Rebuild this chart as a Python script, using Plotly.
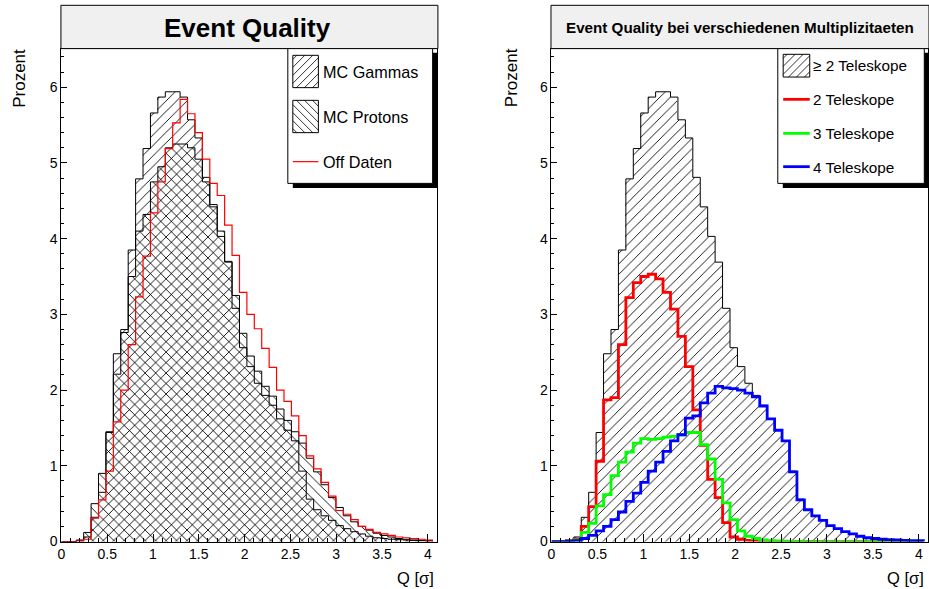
import plotly.graph_objects as go

W, H = 929, 589
BIN_W = 0.081
N_BINS = 50
X_MAX = 4.1
Y_MAX = 6.51

x_ticks = [0, 0.5, 1, 1.5, 2, 2.5, 3, 3.5, 4]
x_tick_labels = ["0", "0.5", "1", "1.5", "2", "2.5", "3", "3.5", "4"]
y_ticks = [0, 1, 2, 3, 4, 5, 6]

mc_gammas = [0.0, 0.0, 0.01, 0.06, 0.32, 0.65, 1.44, 2.48, 2.80, 3.85,
             4.79, 5.19, 5.66, 5.87, 5.94, 5.94, 5.87, 5.57, 5.33, 4.81,
             4.42, 4.03, 3.69, 3.08, 2.56, 2.31, 2.09, 1.93, 1.80, 1.62,
             1.47, 1.33, 0.93, 0.56, 0.42, 0.34, 0.28, 0.21, 0.17, 0.13,
             0.10, 0.07, 0.05, 0.04, 0.03, 0.025, 0.02, 0.015, 0.01, 0.01]
mc_protons = [0.0, 0.0, 0.02, 0.12, 0.50, 0.90, 1.45, 2.21, 2.76, 3.50,
              4.10, 4.32, 4.75, 4.95, 5.20, 5.25, 5.25, 5.20, 5.05, 4.75,
              4.45, 4.10, 3.70, 3.25, 2.75, 2.45, 2.25, 2.05, 1.92, 1.75,
              1.60, 1.45, 1.30, 1.10, 0.92, 0.75, 0.58, 0.45, 0.34, 0.26,
              0.20, 0.15, 0.11, 0.08, 0.06, 0.04, 0.03, 0.02, 0.015, 0.01]
off_daten = [0.0, 0.0, 0.01, 0.03, 0.31, 0.55, 0.93, 1.58, 2.00, 2.60,
             3.23, 3.77, 4.34, 4.75, 5.19, 5.53, 5.84, 5.65, 5.40, 5.05,
             4.73, 4.57, 4.18, 3.78, 3.29, 3.00, 2.81, 2.55, 2.30, 2.00,
             1.85, 1.66, 1.40, 1.13, 0.96, 0.78, 0.60, 0.41, 0.36, 0.29,
             0.20, 0.16, 0.12, 0.10, 0.08, 0.06, 0.05, 0.04, 0.03, 0.02]

tel_ge2 = mc_gammas
tel_2 = [0.0, 0.0, 0.01, 0.03, 0.20, 0.46, 1.06, 1.87, 1.90, 2.60,
         3.22, 3.42, 3.50, 3.53, 3.47, 3.29, 3.07, 2.71, 2.31, 1.74,
         1.27, 0.82, 0.58, 0.25, 0.06, 0.03, 0.015, 0.01, 0.005, 0.0,
         0.0, 0.0, 0.0, 0.0, 0.0, 0.0, 0.0, 0.0, 0.0, 0.0,
         0.0, 0.0, 0.0, 0.0, 0.0, 0.0, 0.0, 0.0, 0.0, 0.0]
tel_3 = [0.0, 0.0, 0.005, 0.02, 0.12, 0.24, 0.47, 0.62, 0.87, 1.05,
         1.18, 1.30, 1.36, 1.35, 1.36, 1.38, 1.39, 1.41, 1.44, 1.44,
         1.28, 1.09, 0.82, 0.51, 0.29, 0.14, 0.07, 0.04, 0.02, 0.01,
         0.008, 0.005, 0.003, 0.002, 0.0, 0.0, 0.0, 0.0, 0.0, 0.0,
         0.0, 0.0, 0.0, 0.0, 0.0, 0.0, 0.0, 0.0, 0.0, 0.0]
tel_4 = [0.0, 0.0, 0.005, 0.01, 0.04, 0.08, 0.14, 0.20, 0.29, 0.39,
         0.53, 0.64, 0.78, 0.93, 1.05, 1.19, 1.33, 1.41, 1.63, 1.66,
         1.83, 1.96, 2.05, 2.03, 2.02, 2.00, 1.96, 1.91, 1.79, 1.62,
         1.47, 1.33, 0.92, 0.55, 0.42, 0.34, 0.28, 0.21, 0.17, 0.13,
         0.10, 0.07, 0.05, 0.04, 0.03, 0.025, 0.02, 0.015, 0.01, 0.01]

edges = [i * BIN_W for i in range(N_BINS + 1)]
centers = [(edges[i] + edges[i + 1]) / 2 for i in range(N_BINS)]

FONT = "Liberation Sans, Arial, Helvetica, sans-serif"

# empirical correction of the rendered page geometry
XS, XO = 0.997, 2.5
YS, YO = 0.986, 0.7


def px(x):
    return ((x - XO) / XS) / W


def py(y):
    return 1 - ((y - YO) / YS) / H


def outline(vals):
    xs = [edges[0]] + edges + [edges[-1]]
    ys = [0] + list(vals) + [vals[-1], 0]
    return xs, ys


fig = go.Figure()


def hatch_bar(vals, shape, xa, ya):
    fig.add_trace(go.Bar(
        x=centers, y=vals, width=BIN_W, xaxis=xa, yaxis=ya,
        marker=dict(color="black", line=dict(width=0),
                    pattern=dict(shape=shape, size=7.4, solidity=0.12,
                                 fillmode="replace")),
        opacity=1, showlegend=False, hoverinfo="skip"))


def step_line(vals, color, width, xa, ya):
    xs, ys = outline(vals)
    fig.add_trace(go.Scatter(
        x=xs, y=ys, mode="lines", line=dict(color=color, width=width, shape="hv"),
        xaxis=xa, yaxis=ya, showlegend=False, hoverinfo="skip"))


# left panel
hatch_bar(mc_gammas, "/", "x", "y")
hatch_bar(mc_protons, "\\", "x", "y")
step_line(mc_gammas, "black", 1, "x", "y")
step_line(mc_protons, "black", 1, "x", "y")
step_line(off_daten, "#ff0000", 1.2, "x", "y")

# right panel
hatch_bar(tel_ge2, "/", "x2", "y2")
step_line(tel_ge2, "black", 1, "x2", "y2")
step_line(tel_2, "#ff0000", 2.8, "x2", "y2")
step_line(tel_3, "#00ff00", 2.8, "x2", "y2")
step_line(tel_4, "#0000ff", 2.8, "x2", "y2")

L_X0, L_X1 = 60, 436
R_X0, R_X1 = 550.7, 927.7
Y_TOP, Y_BOT = 49.3, 542

axis_common = dict(showgrid=False, zeroline=False, showline=True, mirror=True,
                   linecolor="black", linewidth=1, ticks="inside",
                   tickcolor="black", tickfont=dict(family=FONT, size=14, color="black"))

xa = dict(axis_common, range=[0, X_MAX], tickvals=x_ticks, ticktext=x_tick_labels,
          ticklen=8, minor=dict(dtick=0.1, tick0=0, ticklen=4, ticks="inside", tickcolor="black"))
ya = dict(axis_common, range=[0, Y_MAX], tickvals=y_ticks, ticklen=6,
          minor=dict(dtick=0.2, tick0=0, ticklen=3, ticks="inside", tickcolor="black"))

fig.update_layout(
    width=W, height=H, margin=dict(l=0, r=0, t=0, b=0),
    paper_bgcolor="white", plot_bgcolor="white",
    barmode="overlay", bargap=0,
    xaxis=dict(xa, domain=[px(L_X0), px(L_X1)], anchor="y"),
    yaxis=dict(ya, domain=[py(Y_BOT), py(Y_TOP)], anchor="x"),
    xaxis2=dict(xa, domain=[px(R_X0), px(R_X1)], anchor="y2"),
    yaxis2=dict(ya, domain=[py(Y_BOT), py(Y_TOP)], anchor="x2"),
    font=dict(family=FONT, color="black"),
)

shapes = []
annotations = []


def rect(x0, y0, x1, y1, fill, line_w=1, line_c="black"):
    shapes.append(dict(type="rect", xref="paper", yref="paper",
                       x0=px(x0), x1=px(x1), y0=py(y1), y1=py(y0),
                       fillcolor=fill, line=dict(color=line_c, width=line_w), layer="above"))


def seg(x0, y0, x1, y1, color="black", width=1):
    shapes.append(dict(type="line", xref="paper", yref="paper",
                       x0=px(x0), x1=px(x1), y0=py(y0), y1=py(y1),
                       line=dict(color=color, width=width), layer="above"))


def hatch_box(x0, y0, x1, y1, kind, spacing=8.0):
    rect(x0, y0, x1, y1, "white")
    c = x0 + y0 - 20 * spacing if kind == "/" else x0 - y1 - 20 * spacing
    c += spacing / 2
    for _ in range(60):
        if kind == "/":
            xs = max(x0, c - y1)
            xe = min(x1, c - y0)
            if xe - xs > 0.5:
                seg(xs, c - xs, xe, c - xe, width=0.8)
        else:
            xs = max(x0, c + y0)
            xe = min(x1, c + y1)
            if xe - xs > 0.5:
                seg(xs, xs - c, xe, xe - c, width=0.8)
        c += spacing


def text(x, y, s, size, xanchor="left", angle=0, bold=False):
    annotations.append(dict(xref="paper", yref="paper", x=px(x), y=py(y),
                            text=("<b>%s</b>" % s) if bold else s, showarrow=False,
                            xanchor=xanchor, yanchor="middle", textangle=angle,
                            borderpad=0,
                            font=dict(family=FONT, size=size, color="black")))


# title boxes
rect(L_X0 - 0.5, 6, L_X1 + 1, Y_TOP, "#f0f0f0")
rect(R_X0 - 0.5, 6, R_X1 + 1, Y_TOP, "#f0f0f0")
text((L_X0 + L_X1) / 2 - 2, 29, "Event Quality", 26, "center", bold=True)
text((R_X0 + R_X1) / 2, 28, "Event Quality bei verschiedenen Multiplizitaeten", 15.2, "center", bold=True)

# axis titles
text(18, 79, "Prozent", 17, "center", angle=-90)
text(510, 78, "Prozent", 17, "center", angle=-90)
text(434, 578, "Q [σ]", 16.5, "right")
text(925, 578, "Q [σ]", 16.5, "right")

# left legend
rect(291.7, 53.5, 436.2, 188.7, "black", 0)
rect(286.7, 49.3, 431.7, 184, "white")
hatch_box(291.7, 56, 317.3, 88.3, "/")
hatch_box(291.7, 101, 317.3, 133.3, "\\")
seg(291.7, 162.3, 317.3, 162.3, "#ff0000", 1.2)
text(320.5, 72.5, "MC Gammas", 16.2)
text(320.5, 117.5, "MC Protons", 16.2)
text(320.5, 162.5, "Off Daten", 16.2)

# right legend
rect(782.3, 53.5, 928.7, 188.7, "black", 0)
rect(777.3, 49.3, 924, 184, "white")
hatch_box(782.7, 55, 809.3, 77.7, "/")
seg(782.7, 100, 809.3, 100, "#ff0000", 2.8)
seg(782.7, 134, 809.3, 134, "#00ff00", 2.8)
seg(782.7, 167.3, 809.3, 167.3, "#0000ff", 2.8)
text(811.5, 66.5, "≥ 2 Teleskope", 15.3)
text(811.5, 100.5, "2 Teleskope", 15.3)
text(811.5, 134.5, "3 Teleskope", 15.3)
text(811.5, 167.8, "4 Teleskope", 15.3)

fig.update_layout(shapes=shapes, annotations=annotations)
fig.write_html("out.html")
